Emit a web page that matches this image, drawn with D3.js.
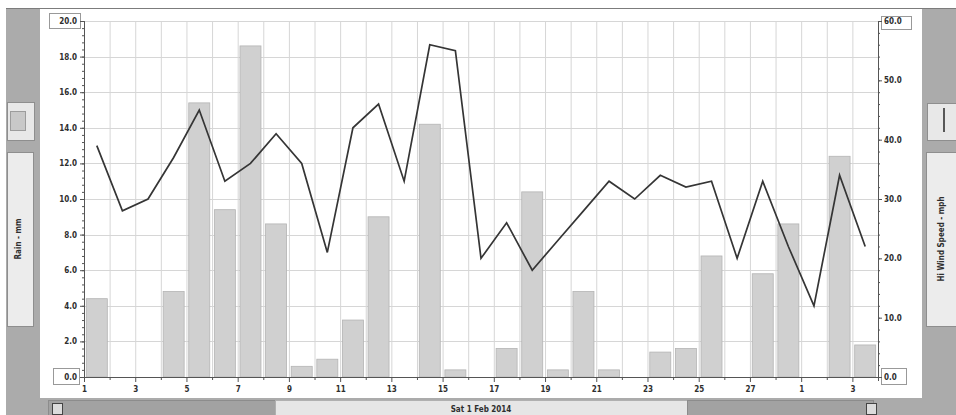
<!DOCTYPE html>
<html>
<head>
<meta charset="utf-8" />
<title></title>
<style>
html, body {
    padding: 0px;
    margin: 0px;
    background: #fff;
}
svg text {
    font-family: "DejaVu Sans Condensed", "Liberation Sans Narrow", sans-serif;
    font-size: 8px;
    font-weight: bold;
    fill: #2e2e2e;
}
.axis path, .axis line {
    stroke: #555;
}
.grid line {
    stroke: #d6d6d6;
}
</style>
</head>
<body>
<div id="chart"></div>

<script src="https://cdnjs.cloudflare.com/ajax/libs/d3/7.8.5/d3.min.js"></script>
<script>
!(function(){
    "use strict"

    var days = ["1 Feb","2 Feb","3 Feb","4 Feb","5 Feb","6 Feb","7 Feb","8 Feb","9 Feb","10 Feb",
                "11 Feb","12 Feb","13 Feb","14 Feb","15 Feb","16 Feb","17 Feb","18 Feb","19 Feb","20 Feb",
                "21 Feb","22 Feb","23 Feb","24 Feb","25 Feb","26 Feb","27 Feb","28 Feb","1 Mar","2 Mar","3 Mar"]

    // Rain - mm
    var rain = [4.4, 0, 0, 4.8, 15.4, 9.4, 18.6, 8.6, 0.6, 1.0,
                3.2, 9.0, 0, 14.2, 0.4, 0, 1.6, 10.4, 0.4, 4.8,
                0.4, 0, 1.4, 1.6, 6.8, 0, 5.8, 8.6, 0, 12.4, 1.8]

    // Hi Wind Speed - mph
    var wind = [39, 28, 30, 37, 45, 33, 36, 41, 36, 21,
                42, 46, 33, 56, 55, 20, 26, 18, 23, 28,
                33, 30, 34, 32, 33, 20, 33, 22, 12, 34, 22]

    var rainTicks = [0, 2, 4, 6, 8, 10, 12, 14, 16, 18, 20]
    var windTicks = [0, 10, 20, 30, 40, 50, 60]
    var dateLabel = "Sat 1 Feb 2014"

    var W = 956, H = 415
    var plot = {left: 84, right: 878, top: 21, bottom: 377}

    var svg = d3.select("#chart").append("svg")
        .attr("width", W)
        .attr("height", H)

    var x = d3.scaleBand().domain(days)
        .range([plot.left, plot.right])
        .paddingInner(0.18)
        .paddingOuter(0.09)
    // day boundaries for ticks and grid
    var xt = d3.scaleLinear().domain([0, days.length]).range([plot.left, plot.right])
    var yL = d3.scaleLinear().domain([0, 20]).range([plot.bottom, plot.top])
    var yR = d3.scaleLinear().domain([0, 60]).range([plot.bottom, plot.top])

    drawFrame()
    drawGrid()
    drawBars()
    drawLine()
    drawAxes()

    function drawFrame() {
        svg.append("rect").attr("x", 6).attr("y", 8).attr("width", W - 6).attr("height", H - 8)
            .attr("fill", "#ababab")
        svg.append("line").attr("x1", 6).attr("x2", W).attr("y1", 8.5).attr("y2", 8.5)
            .attr("stroke", "#7c7c7c")
        svg.append("rect").attr("x", 40).attr("y", 9).attr("width", 882).attr("height", 389)
            .attr("fill", "#fff")

        //左の凡例とタイトル
        svg.append("rect").attr("x", 7.5).attr("y", 102.5).attr("width", 27).attr("height", 38)
            .attr("fill", "#e8e8e8").attr("stroke", "#8e8e8e")
        svg.append("rect").attr("x", 10.5).attr("y", 111.5).attr("width", 15).attr("height", 19)
            .attr("fill", "#c8c8c8").attr("stroke", "#9c9c9c")
        svg.append("rect").attr("x", 7.5).attr("y", 152.5).attr("width", 26).attr("height", 174)
            .attr("fill", "#ececec").attr("stroke", "#8e8e8e")
        svg.append("text").attr("transform", "translate(21,239) rotate(-90)")
            .attr("text-anchor", "middle").text("Rain - mm")

        //右の凡例とタイトル
        svg.append("rect").attr("x", 927.5).attr("y", 103.5).attr("width", 29).attr("height", 37)
            .attr("fill", "#e8e8e8").attr("stroke", "#8e8e8e")
        svg.append("line").attr("x1", 944).attr("x2", 944).attr("y1", 108).attr("y2", 132)
            .attr("stroke", "#333").attr("stroke-width", 1.6)
        svg.append("rect").attr("x", 926.5).attr("y", 152.5).attr("width", 30).attr("height", 174)
            .attr("fill", "#ececec").attr("stroke", "#8e8e8e")
        svg.append("text").attr("transform", "translate(944,239) rotate(-90)")
            .attr("text-anchor", "middle").text("Hi Wind Speed - mph")

        //下のバー
        svg.append("rect").attr("x", 48.5).attr("y", 400.5).attr("width", 227).attr("height", 16)
            .attr("fill", "#a2a2a2").attr("stroke", "#8c8c8c")
        svg.append("rect").attr("x", 275.5).attr("y", 400.5).attr("width", 412).attr("height", 16)
            .attr("fill", "#e6e6e6").attr("stroke", "#b0b0b0")
        svg.append("rect").attr("x", 687.5).attr("y", 400.5).attr("width", 186).attr("height", 16)
            .attr("fill", "#a2a2a2").attr("stroke", "#8c8c8c")
        ;[52.5, 866.5].forEach(function(ix) {
            svg.append("rect").attr("x", ix).attr("y", 403.5).attr("width", 10).attr("height", 11)
                .attr("fill", "#dcdcdc").attr("stroke", "#444")
        })
        svg.append("text").attr("x", 481).attr("y", 411.5)
            .attr("text-anchor", "middle").text(dateLabel)
    }

    function drawGrid() {
        var g = svg.append("g").attr("class", "grid")
        g.selectAll(".v").data(d3.range(1, days.length))
            .enter().append("line")
            .attr("x1", function(i) { return xt(i) + 0.5 })
            .attr("x2", function(i) { return xt(i) + 0.5 })
            .attr("y1", plot.top).attr("y2", plot.bottom)
        g.selectAll(".h").data(rainTicks.slice(1))
            .enter().append("line")
            .attr("x1", plot.left).attr("x2", plot.right)
            .attr("y1", function(d) { return Math.round(yL(d)) + 0.5 })
            .attr("y2", function(d) { return Math.round(yL(d)) + 0.5 })
    }

    function drawBars() {
        svg.append("g").selectAll("rect")
            .data(rain)
            .enter()
            .append("rect")
            .attr("x", function(d, i) { return x(days[i]) })
            .attr("y", function(d) { return yL(d) })
            .attr("width", x.bandwidth())
            .attr("height", function(d) { return yL(0) - yL(d) })
            .attr("fill", "#d0d0d0")
            .attr("stroke", "#b4b4b4")
            .attr("stroke-width", 0.8)
    }

    function drawLine() {
        var line = d3.line()
            .x(function(d, i) { return x(days[i]) + x.bandwidth() / 2 })
            .y(function(d) { return yR(d) })
        svg.append("path")
            .datum(wind)
            .attr("d", line)
            .attr("fill", "none")
            .attr("stroke", "#353535")
            .attr("stroke-width", 1.7)
            .attr("stroke-linejoin", "miter")
    }

    function drawAxes() {
        var fmt = d3.format(".1f")

        // minor ticks
        svg.append("g").attr("class", "axis")
            .attr("transform", "translate(" + plot.left + ",0)")
            .call(d3.axisLeft(yL).tickValues(d3.range(0, 20.01, 0.4)).tickSize(2).tickFormat(""))
        svg.append("g").attr("class", "axis")
            .attr("transform", "translate(" + plot.right + ",0)")
            .call(d3.axisRight(yR).tickValues(d3.range(0, 60.01, 2)).tickSize(2).tickFormat(""))

        // end label boxes
        svg.append("rect").attr("x", 49.5).attr("y", yL(20) - 7.5).attr("width", 31).attr("height", 15)
            .attr("fill", "#fff").attr("stroke", "#999")
        svg.append("rect").attr("x", 53.5).attr("y", yL(0) - 8.5).attr("width", 26).attr("height", 16)
            .attr("fill", "#fff").attr("stroke", "#999")
        svg.append("rect").attr("x", 881.5).attr("y", yR(60) - 4.5).attr("width", 30).attr("height", 13)
            .attr("fill", "#fff").attr("stroke", "#999")
        svg.append("rect").attr("x", 881.5).attr("y", yR(0) - 8.5).attr("width", 25).attr("height", 16)
            .attr("fill", "#fff").attr("stroke", "#999")

        var left = svg.append("g").attr("class", "axis")
            .attr("transform", "translate(" + plot.left + ",0)")
            .call(d3.axisLeft(yL).tickValues(rainTicks).tickSize(4).tickPadding(3).tickFormat(fmt))
        left.select(".domain").attr("stroke", "#555")

        svg.append("g").attr("class", "axis")
            .attr("transform", "translate(" + plot.right + ",0)")
            .call(d3.axisRight(yR).tickValues(windTicks).tickSize(4).tickPadding(2).tickFormat(fmt))

        var bottom = svg.append("g").attr("class", "axis")
            .attr("transform", "translate(0," + plot.bottom + ")")
            .call(d3.axisBottom(xt).tickValues(d3.range(0, days.length + 1)).tickSize(4).tickPadding(5)
                .tickFormat(function(i) {
                    return (i % 2 === 0 && i < days.length) ? days[i].split(" ")[0] : ""
                }))
        bottom.selectAll(".tick line")
            .attr("y2", function(i) { return i % 2 === 0 ? 5 : 3 })

        svg.selectAll(".axis text").attr("font-family", null).attr("font-size", null)
    }

}());
</script>
</body>
</html>
